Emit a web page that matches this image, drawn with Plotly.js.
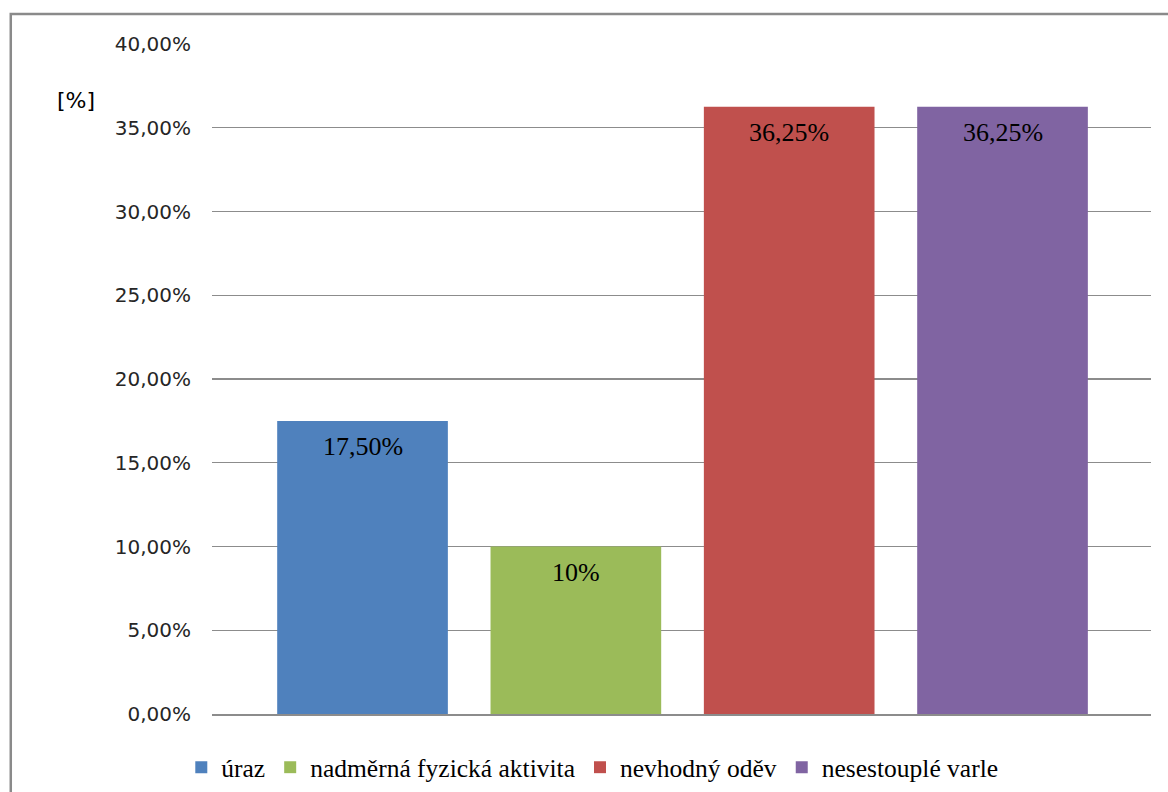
<!DOCTYPE html>
<html>
<head>
<meta charset="utf-8">
<script src="https://cdn.plot.ly/plotly-3.0.1.min.js"></script>
<style>
  html, body { margin: 0; padding: 0; background: #ffffff; }
  #chart { width: 1168px; height: 792px; }
</style>
</head>
<body>
<div id="chart"></div>
<script>
// Příčiny torze varlete – podíl odpovědí
const categories = ['úraz', 'nadměrná fyzická aktivita', 'nevhodný oděv', 'nesestouplé varle'];
const shares = [0.175, 0.10, 0.3625, 0.3625];
const valueLabels = ['17,50%', '10%', '36,25%', '36,25%'];
const barColors = ['#4F81BD', '#9BBB59', '#C0504D', '#8064A2'];

const serif = 'Liberation Serif';
const sans = 'DejaVu Sans';

// one trace per category so each gets its own legend entry
const traces = categories.map((name, i) => ({
  type: 'bar',
  name: name,
  x: [name],
  y: [shares[i]],
  width: 0.8,
  marker: { color: barColors[i], line: { width: 0 } },
  hoverinfo: 'skip'
}));

// value labels sitting just inside the top of each bar
const labelNotes = categories.map((name, i) => ({
  xref: 'x', yref: 'y',
  x: name, y: shares[i],
  text: valueLabels[i],
  showarrow: false,
  xanchor: 'center', yanchor: 'top',
  yshift: -9,
  font: { family: serif, size: 26, color: '#000000' }
}));

const layout = {
  width: 1168,
  height: 792,
  margin: { l: 212, r: 17, t: 44, b: 78, autoexpand: false },
  font: { family: serif, size: 24, color: '#000000' },
  paper_bgcolor: '#ffffff',
  plot_bgcolor: '#ffffff',
  separators: ', ',
  barmode: 'overlay',
  showlegend: true,
  legend: {
    orientation: 'h',
    x: 0.405, xanchor: 'center',
    y: -0.08, yanchor: 'middle',
    font: { family: serif, size: 25.5, color: '#000000' },
    traceorder: 'normal',
    bgcolor: 'rgba(0,0,0,0)'
  },
  xaxis: {
    type: 'category',
    range: [-0.7056, 3.696],
    showticklabels: false,
    showgrid: false,
    showline: true,
    linecolor: '#8c8c8c',
    linewidth: 1.5,
    ticks: '',
    fixedrange: true
  },
  yaxis: {
    range: [0, 0.4],
    dtick: 0.05,
    tick0: 0,
    tickformat: '.2%',
    showgrid: true,
    gridcolor: '#8c8c8c',
    gridwidth: 1.2,
    zeroline: false,
    showline: false,
    ticks: '',
    ticklabelstandoff: 20,
    tickfont: { family: sans, size: 20, color: '#262626' },
    fixedrange: true
  },
  annotations: labelNotes.concat([{
    xref: 'paper', yref: 'paper',
    x: -0.145, y: 0.915,
    text: '[%]',
    showarrow: false,
    xanchor: 'center', yanchor: 'middle',
    font: { family: sans, size: 22, color: '#000000' }
  }]),
  shapes: [{
    type: 'path',
    xref: 'paper', yref: 'paper',
    path: 'M -0.2143,-0.2 L -0.2143,1.0448 L 1.1,1.0448',
    line: { color: '#8a8a8a', width: 2.5 },
    layer: 'above'
  }]
};

Plotly.newPlot('chart', traces, layout, { displayModeBar: false, staticPlot: true });
</script>
</body>
</html>
